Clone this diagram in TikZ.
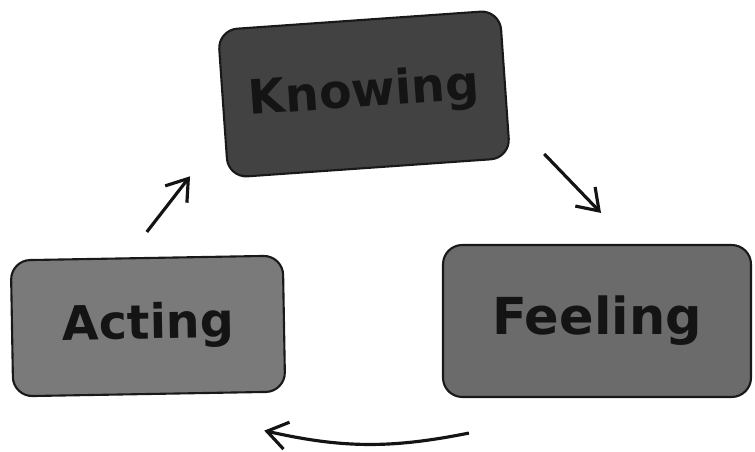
\documentclass[tikz,border=0pt]{standalone}
\usepackage{fontspec}
\setsansfont{DejaVu Sans}
\usetikzlibrary{arrows.meta,positioning}
\tikzset{
      stagebox/.style={
        rounded corners=11pt,
        draw=black!90,
        line width=1.2pt,
        text=black!92,
        font=\sffamily\bfseries\fontsize{27}{30}\selectfont,
        align=center,
        inner sep=0pt
      },
      cyclearrow/.style={
        line width=1.8pt,
        draw=black!92,
        -{Straight Barb[length=4mm,width=5.5mm,line width=1.8pt]}
      }
    }

\begin{document}
\begin{tikzpicture}[x=1cm,y=1cm]
    \useasboundingbox (0,0) rectangle (15.1,9.04);
    \node[stagebox, fill=black!74, minimum width=5.65cm, minimum height=2.96cm, rotate=4] (knowing) at (7.28,7.16) {Knowing};
    \node[stagebox, fill=black!58, minimum width=6.16cm, minimum height=3.04cm, font=\sffamily\bfseries\fontsize{29}{32}\selectfont] (feeling) at (11.94,2.62) {Feeling};
    \node[stagebox, fill=black!52, minimum width=5.44cm, minimum height=2.72cm, rotate=1] (acting) at (2.96,2.52) {Acting};
    % arrow ends sit a little away from the boxes
    \coordinate (actout) at ([shift={(0,0.5)}]acting.north);
    \coordinate (knowin) at ([shift={(-0.745,0.05)}]knowing.south west);
    \coordinate (knowout) at ([shift={(0.66,0.10)}]knowing.south east);
    \coordinate (feelin) at ([shift={(0.08,0.62)}]feeling.north);
    \coordinate (feelout) at ([shift={(0.54,-0.7)}]feeling.south west);
    \coordinate (actin) at ([shift={(-0.44,-0.76)}]acting.south east);
    \draw[cyclearrow] (actout) -- (knowin);
    \draw[cyclearrow] (knowout) -- (feelin);
    \draw[cyclearrow] (feelout) to[bend left=12] (actin);
    \end{tikzpicture}
\end{document}
